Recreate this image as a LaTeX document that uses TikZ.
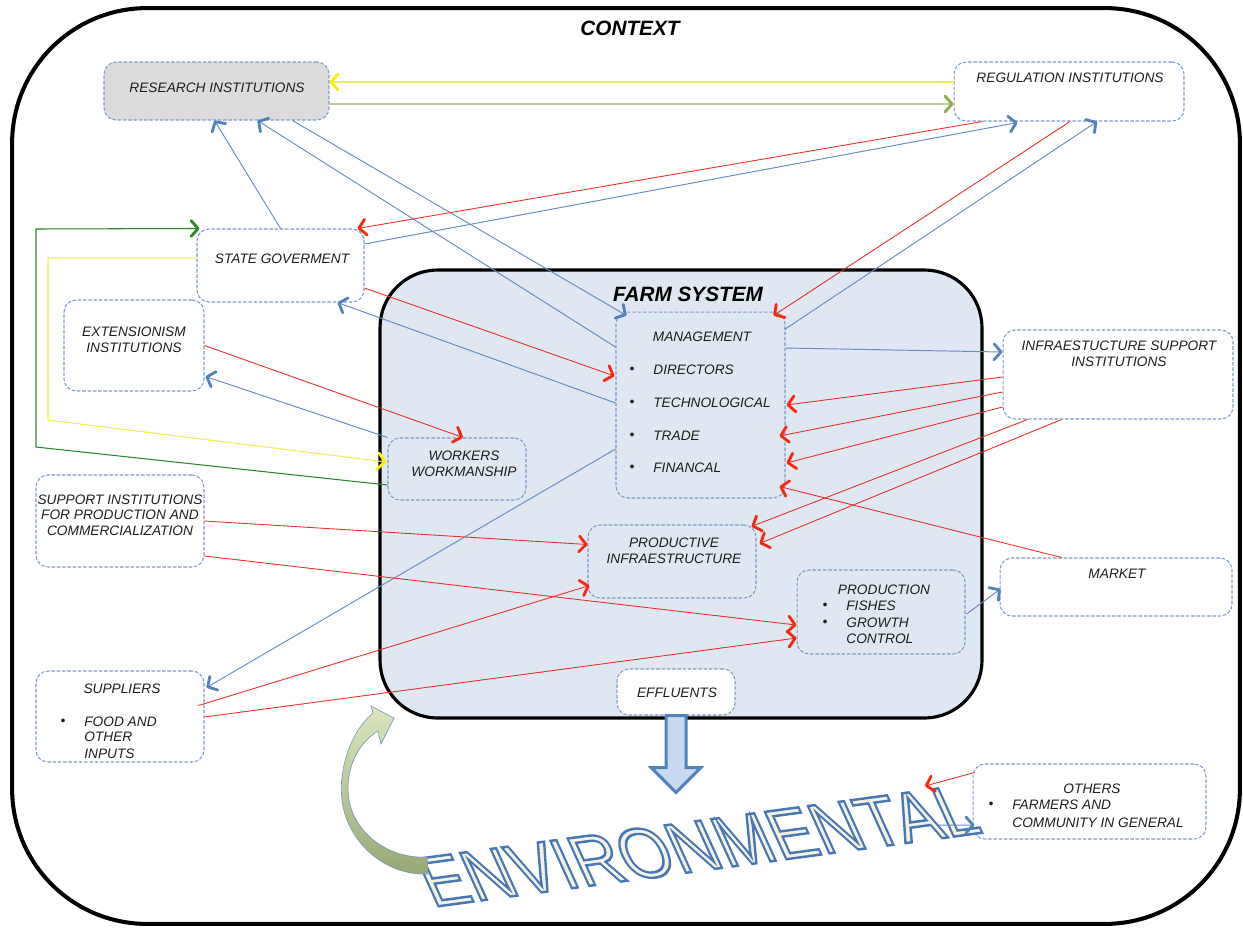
\documentclass[tikz,border=0pt]{standalone}
\usepackage{fontspec}
\setmainfont{Liberation Sans}
\usetikzlibrary{calc}
\usetikzlibrary{arrows.meta}
\usetikzlibrary{positioning}

\definecolor{boxline}{RGB}{125,155,200}
\definecolor{linkblue}{RGB}{100,142,195}
\definecolor{tipblue}{RGB}{80,130,190}
\definecolor{linkred}{RGB}{238,45,35}
\definecolor{tipred}{RGB}{250,40,10}
\definecolor{farmfill}{RGB}{222,231,242}
\definecolor{resfill}{RGB}{220,220,220}
\definecolor{txt}{RGB}{30,30,30}
\definecolor{linkyellow}{RGB}{238,238,90}
\definecolor{tipyellow}{RGB}{255,238,0}
\definecolor{linkolive}{RGB}{150,172,100}
\definecolor{tipolive}{RGB}{140,175,75}
\definecolor{linkgreen}{RGB}{40,135,40}
\definecolor{efffill}{RGB}{200,218,240}
\definecolor{envcream}{RGB}{245,242,226}
\definecolor{arrowtop}{RGB}{220,230,190}
\definecolor{arrowbot}{RGB}{150,168,115}

\newcommand{\lblfont}{\fontsize{7.8}{8.9}\selectfont\itshape}
% outlined letters: fill and stroke text render mode
\newcommand{\outlined}[1]{\textcolor{envcream}{\special{pdf:literal direct 2 Tr 1.4 w 0.27 0.47 0.71 RG}#1\special{pdf:literal direct 0 Tr}}}

\tikzset{>=latex}
\tikzstyle{box} = [rectangle, rounded corners=0.24cm, draw=boxline, dash pattern=on 2pt off 1pt, line width=0.6pt, inner sep=0pt, fill=white]
\tikzstyle{lbl} = [font=\lblfont, text=txt, inner sep=0pt, align=center]
\tikzstyle{itm} = [font=\lblfont, text=txt, inner sep=0pt, anchor=west]
\tikzstyle{bl} = [draw=linkblue, line width=0.55pt, -{Straight Barb[length=4pt, width=9pt, line width=1.6pt, round, color=tipblue]}]
\tikzstyle{rd} = [draw=linkred, line width=0.5pt, -{Straight Barb[length=4pt, width=9pt, line width=1.6pt, round, color=tipred]}]

\begin{document}
\begin{tikzpicture}[x=0.02cm, y=-0.02cm]
\useasboundingbox (0,0) rectangle (1243,927);

% frames
\node [rectangle, draw=black, line width=2.3pt, rounded corners=2.7cm, minimum width=24.56cm, minimum height=18.32cm] (ctx) at (626,466) {};
\node [font=\fontsize{11.8}{12}\selectfont\bfseries\itshape] (ctxtitle) at (630,28) {CONTEXT};
\node [rectangle, draw=black, line width=1.8pt, fill=farmfill, rounded corners=1.15cm, minimum width=12.04cm, minimum height=8.96cm] (farm) at (681,494) {};
\node [font=\fontsize{11.8}{12}\selectfont\bfseries\itshape] (farmtitle) at (688,294) {FARM SYSTEM};

% boxes
\node [box, fill=resfill, minimum width=4.5cm, minimum height=1.16cm] (res) at (216.5,91) {};
\node [box, minimum width=4.6cm, minimum height=1.18cm] (reg) at (1069,91.5) {};
\node [box, minimum width=3.34cm, minimum height=1.46cm] (gov) at (280.5,265.5) {};
\node [box, minimum width=2.8cm, minimum height=1.82cm] (ext) at (134,345.5) {};
\node [box, fill=farmfill, minimum width=2.76cm, minimum height=1.24cm] (wrk) at (457,469) {};
\node [box, minimum width=3.36cm, minimum height=1.84cm] (sup) at (120,521) {};
\node [box, minimum width=3.36cm, minimum height=1.82cm] (spl) at (120,716.5) {};
\node [box, fill=farmfill, minimum width=3.38cm, minimum height=3.72cm] (mgmt) at (700.5,405) {};
\node [box, minimum width=4.6cm, minimum height=1.78cm] (infra) at (1118,374.5) {};
\node [box, fill=farmfill, minimum width=3.36cm, minimum height=1.46cm] (pinf) at (672,561.5) {};
\node [box, fill=farmfill, minimum width=3.36cm, minimum height=1.68cm] (prod) at (881,612) {};
\node [box, minimum width=4.64cm, minimum height=1.16cm] (mkt) at (1116,587) {};
\node [box, minimum width=2.36cm, minimum height=0.92cm] (effl) at (676,692) {};
\node [box, minimum width=4.66cm, minimum height=1.5cm] (oth) at (1089.5,801.5) {};

% texts
\node [lbl] (restxt) at (217,88) {RESEARCH INSTITUTIONS};
\node [lbl] (regtxt) at (1070,78) {REGULATION INSTITUTIONS};
\node [lbl] (govtxt) at (282,259) {STATE GOVERMENT};
\node [lbl] (exttxt) at (134,340) {EXTENSIONISM\\INSTITUTIONS};
\node [lbl] (wrktxt) at (464,463.5) {WORKERS\\WORKMANSHIP};
\node [lbl] (suptxt) at (120,515) {SUPPORT INSTITUTIONS\\FOR PRODUCTION AND\\COMMERCIALIZATION};
\node [lbl] (spltxt) at (122,689) {SUPPLIERS};
\node [lbl] (splb) at (63,722) {•};
\node [itm] (spl1) at (84,722) {FOOD AND};
\node [itm] (spl2) at (84,737) {OTHER};
\node [itm] (spl3) at (84,754) {INPUTS};
\node [lbl] (mgmttxt) at (702,337) {MANAGEMENT};
\node [lbl] (mgmtb1) at (632,370) {•};
\node [lbl] (mgmtb2) at (632,403) {•};
\node [lbl] (mgmtb3) at (632,436) {•};
\node [lbl] (mgmtb4) at (632,468) {•};
\node [itm] (mgmt1) at (653,370) {DIRECTORS};
\node [itm] (mgmt2) at (653,403) {TECHNOLOGICAL};
\node [itm] (mgmt3) at (653,436) {TRADE};
\node [itm] (mgmt4) at (653,468) {FINANCAL};
\node [lbl] (infratxt) at (1119,354) {INFRAESTUCTURE SUPPORT\\INSTITUTIONS};
\node [lbl] (pinftxt) at (674,551) {PRODUCTIVE\\INFRAESTRUCTURE};
\node [lbl] (prodtxt) at (884,590) {PRODUCTION};
\node [lbl] (prodb1) at (825,606) {•};
\node [lbl] (prodb2) at (825,623) {•};
\node [itm] (prod1) at (846,606) {FISHES};
\node [itm] (prod2) at (846,623) {GROWTH};
\node [itm] (prod3) at (846,639) {CONTROL};
\node [lbl] (mkttxt) at (1117,574) {MARKET};
\node [lbl] (effltxt) at (677,693) {EFFLUENTS};
\node [lbl] (othtxt) at (1092,789) {OTHERS};
\node [lbl] (othb) at (991,805) {•};
\node [itm] (oth1) at (1012,805) {FARMERS AND};
\node [itm] (oth2) at (1012,823) {COMMUNITY IN GENERAL};

% environmental
\node [inner sep=0pt, font=\fontsize{41.2}{41.2}\selectfont, rotate=7.7, xslant=-0.3, xscale=0.9] (env) at (698,846) {\outlined{ENVIRONMENTAL}};
\coordinate (envtop) at (925,786);
\coordinate (envfoot) at (939,825);

% effluents block arrow
\draw [draw=tipblue, line width=1.7pt, fill=efffill, line join=miter, shift={(effl.south)}] (-10,0) -- (10,0) -- (10,52) -- (25,52) -- (0,77) -- (-25,52) -- (-10,52) -- cycle;

% curved arrow
\shadedraw [draw=boxline, line width=0.4pt, top color=arrowtop, bottom color=arrowbot] (373,713) .. controls (352,730) and (338,768) .. (342,800) .. controls (347,842) and (385,876) .. (428,874) -- (427,857) .. controls (395,859) and (360,840) .. (350,805) .. controls (343,775) and (355,745) .. (378,731) -- (381,744) -- (394,718) -- (371,706) -- cycle;

% links between institutions
\draw [draw=linkyellow, line width=0.6pt, -{Straight Barb[length=4pt, width=9pt, line width=1.6pt, round, color=tipyellow]}] ($(reg.west)+(0,-9.5)$) -- ($(res.east)+(0,-9)$);
\draw [draw=linkolive, line width=0.6pt, -{Straight Barb[length=4pt, width=9pt, line width=1.6pt, round, color=tipolive]}] ($(res.east)+(0,13)$) -- ($(reg.west)+(0,12.5)$);
\draw [bl] (gov.north) -- ($(res.south)+(-2,0)$);
\draw [bl] ($(mgmt.west)+(0,-58)$) -- ($(res.south)+(41,0)$);
\draw [bl] ($(res.south)+(76,0)$) -- ($(mgmt.north west)+(11,4)$);
\draw [rd] ($(reg.south west)+(29,0)$) -- ($(gov.north east)+(-7,0)$);
\draw [bl] ($(gov.east)+(0,-21.5)$) -- ($(reg.south west)+(64,1)$);
\draw [rd] ($(reg.south)+(1,0)$) -- ($(mgmt.north east)+(-12,4)$);
\draw [bl] ($(mgmt.north east)+(-1,18)$) -- ($(reg.south)+(28,0)$);
\draw [rd] ($(gov.east)+(0,22.5)$) -- ($(mgmt.west)+(-1,-29)$);
\draw [bl] ($(mgmt.west)+(0,-2)$) -- ($(gov.south east)+(-27,0)$);
\draw [rd] (ext.east) -- ($(wrk.north)+(6,0)$);
\draw [bl] (wrk.north west) -- ($(ext.east)+(1,31)$);
\draw [draw=linkgreen, line width=0.6pt, -{Straight Barb[length=4pt, width=9pt, line width=1.6pt, round, color=linkgreen]}] ($(wrk.west)+(0,16)$) -- (36,447) -- (36,229) -- ($(gov.north west)+(3,0)$);
\draw [draw=linkyellow, line width=0.6pt, -{Straight Barb[length=4pt, width=9pt, line width=1.6pt, round, color=tipyellow]}] ($(gov.west)+(0,-7.5)$) -- (48,258) -- (48,420) -- ($(wrk.west)+(-1,-7)$);
\draw [bl] ($(mgmt.west)+(0,44)$) -- ($(spl.east)+(2,-29)$);
\draw [bl] ($(mgmt.east)+(0,-57)$) -- ($(infra.west)+(0,-22.5)$);
\draw [rd] ($(infra.west)+(0,2.5)$) -- ($(mgmt.east)+(1,0)$);
\draw [rd] ($(infra.west)+(0,17.5)$) -- ($(mgmt.east)+(-6,31)$);
\draw [rd] ($(infra.west)+(0,32.5)$) -- ($(mgmt.east)+(1,58)$);
\draw [rd] ($(infra.south west)+(25,0)$) -- ($(pinf.north east)+(-5,2)$);
\draw [rd] ($(infra.south west)+(59,0)$) -- ($(pinf.east)+(3,-18)$);
\draw [rd] ($(mkt.north west)+(62,0)$) -- ($(mgmt.south east)+(-6,-12)$);
\draw [bl] ($(prod.east)+(1,2)$) -- ($(mkt.west)+(1,2)$);
\draw [rd] (sup.east) -- ($(pinf.west)+(0,-17)$);
\draw [rd] ($(sup.east)+(0,35)$) -- ($(prod.west)+(0,13)$);
\draw [rd] ($(spl.east)+(-6,-11)$) -- ($(pinf.south west)+(2,-13)$);
\draw [rd] ($(spl.east)+(0,0.5)$) -- ($(prod.west)+(0,26)$);
\draw [rd] ($(oth.north west)+(2,9)$) -- (envtop);
\draw [bl] (envfoot) -- ($(oth.west)+(2,23.5)$);
\end{tikzpicture}
\end{document}
